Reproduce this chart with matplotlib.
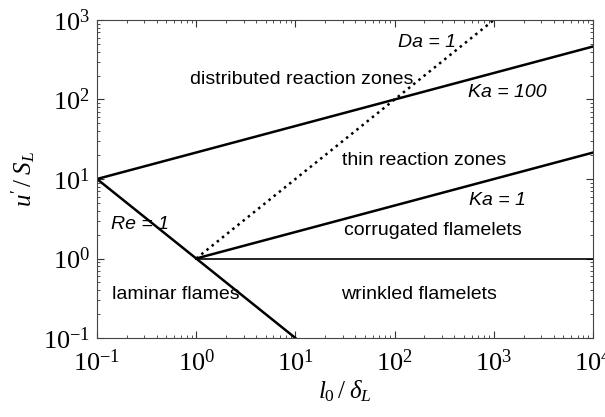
import matplotlib.pyplot as plt
from matplotlib.ticker import LogLocator

plt.rcParams['font.family'] = ['Liberation Serif', 'DejaVu Serif']
plt.rcParams['mathtext.fontset'] = 'custom'
plt.rcParams['mathtext.rm'] = 'Liberation Serif'
plt.rcParams['mathtext.it'] = 'Liberation Serif:italic'

# regime boundary lines (l0/deltaL, u'/SL)
ka100_x = [0.1, 1e4]
ka100_y = [10, 464]
ka1_x = [1, 1e4]
ka1_y = [1, 21.5]
re1_x = [0.1, 10]
re1_y = [10, 0.1]
da1_x = [1, 1000]
da1_y = [1, 1000]
wr_x = [1, 1e4]
wr_y = [1, 1]

# region labels
labels = ['distributed reaction zones', 'thin reaction zones',
          'corrugated flamelets', 'wrinkled flamelets', 'laminar flames']
label_x = [11.7, 200, 244, 176, 0.62]
label_y = [181, 17.3, 2.28, 0.357, 0.348]

# line labels (italic)
line_labels = ['Da = 1', 'Ka = 100', 'Ka = 1', 'Re = 1']
line_label_x = [212, 1359, 1077, 0.271]
line_label_y = [514, 124, 5.44, 2.64]

fig = plt.figure(figsize=(6.05, 4.17), dpi=100)
ax = fig.add_axes([97/605, 1 - 338/417, 496/605, 318/417])

ax.plot(ka100_x, ka100_y, color='black', lw=1.8)
ax.plot(ka1_x, ka1_y, color='black', lw=1.8)
ax.plot(re1_x, re1_y, color='black', lw=1.8)
ax.plot(da1_x, da1_y, color='black', lw=1.8, linestyle=':')
ax.plot(wr_x, wr_y, color='black', lw=1.2)

ax.set_xscale('log')
ax.set_yscale('log')
ax.set_xlim(0.1, 1e4)
ax.set_ylim(0.1, 1e3)

ax.xaxis.set_major_locator(LogLocator(base=10, numticks=10))
ax.yaxis.set_major_locator(LogLocator(base=10, numticks=10))
ax.tick_params(which='both', direction='in', top=True, right=True,
               labelsize=19, colors='#333333', labelcolor='black')
ax.tick_params(which='major', length=5)
ax.tick_params(which='minor', length=2.5)
ax.tick_params(axis='x', pad=8)
ax.tick_params(axis='y', pad=5)
for s in ax.spines.values():
    s.set_color('#444444')

for t, x, y in zip(labels, label_x, label_y):
    ax.text(x, y, t, ha='center', va='center', fontsize=14,
            family='Liberation Sans')
for t, x, y in zip(line_labels, line_label_x, line_label_y):
    ax.text(x, y, t, ha='center', va='center', fontsize=14,
            family='Liberation Sans', style='italic')

ax.set_xlabel(r"$l_0\,/\;\delta_L$", fontsize=18, labelpad=2)
ax.set_ylabel(r"$u'\,/\;S_L$", fontsize=18, labelpad=4)

plt.savefig('out.png', dpi=100)
